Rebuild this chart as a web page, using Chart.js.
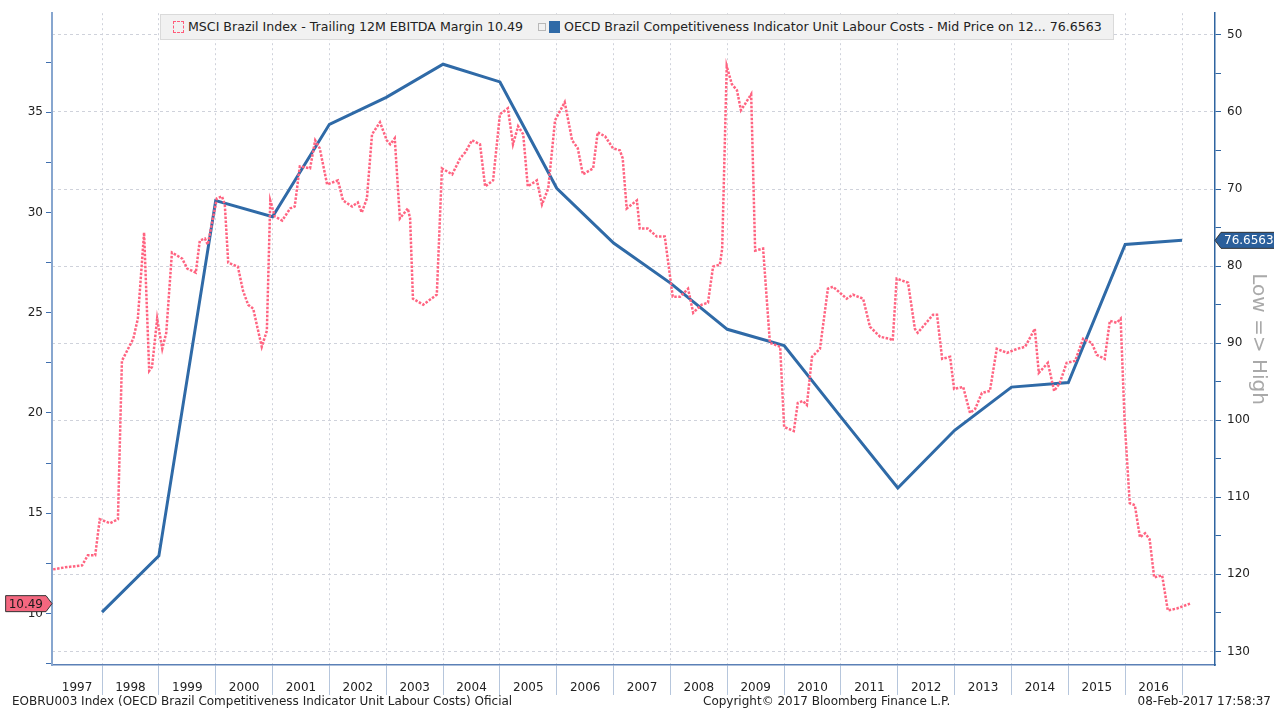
<!DOCTYPE html>
<html lang="en">
<head>
<meta charset="utf-8">
<title>MSCI Brazil EBITDA Margin vs OECD Brazil Unit Labour Costs</title>
<script src="https://cdn.jsdelivr.net/npm/chart.js"></script>
<style>
    html, body { margin: 0; padding: 0; background: #fff; }
    #page { position: relative; width: 1274px; height: 709px; overflow: hidden; font-family: "DejaVu Sans", sans-serif; }
    #chart { position: absolute; left: 0; top: 0; }
    .legend { position: absolute; left: 160px; top: 14px; width: 952px; height: 24px; background: #f1f1f1; border: 1px solid #dadada; font-size: 12.6px; color: #222; white-space: nowrap; }
    .legend span { position: absolute; top: 4px; line-height: 16px; }
    .icon-pink { position: absolute; left: 12px; top: 6px; width: 9px; height: 10px; border: 1px dashed #ff5c7a; }
    .icon-grid { position: absolute; left: 377px; top: 8px; width: 6px; height: 6px; border: 1px solid #b8b8b8; }
    .icon-blue { position: absolute; left: 388px; top: 6px; width: 11px; height: 12px; background: #2f6aa7; }
    .foot { position: absolute; top: 694px; font-size: 12px; color: #222; white-space: nowrap; line-height: 14px; }
</style>
</head>
<body>
<div id="page">
    <canvas id="chart" width="1274" height="709"></canvas>

    <!-- legend box -->
    <div class="legend">
        <div class="icon-pink"></div>
        <span style="left:27px;">MSCI Brazil Index - Trailing 12M EBITDA Margin 10.49</span>
        <div class="icon-grid"></div>
        <div class="icon-blue"></div>
        <span style="left:403px;">OECD Brazil Competitiveness Indicator Unit Labour Costs - Mid Price on 12... 76.6563</span>
    </div>

    <!-- footer -->
    <div class="foot" style="left:12px;">EOBRU003 Index (OECD Brazil Competitiveness Indicator Unit Labour Costs) Oficial</div>
    <div class="foot" style="left:703px;">Copyright© 2017 Bloomberg Finance L.P.</div>
    <div class="foot" style="right:3px;">08-Feb-2017 17:58:37</div>
</div>

<script>
    // MSCI Brazil trailing 12M EBITDA margin (left axis), dates as decimal years
    const msciDates = [
        1997.14, 1997.35, 1997.65, 1997.75, 1997.88, 1997.96, 1998.14, 1998.28, 1998.35, 1998.44,
        1998.55, 1998.63, 1998.74, 1998.83, 1998.88, 1998.97, 1999.06, 1999.13, 1999.23, 1999.41,
        1999.50, 1999.65, 1999.72, 1999.81, 1999.86, 2000.02, 2000.11, 2000.16, 2000.22, 2000.39,
        2000.48, 2000.57, 2000.66, 2000.81, 2000.90, 2000.96, 2001.04, 2001.17, 2001.31, 2001.39,
        2001.48, 2001.66, 2001.75, 2001.83, 2001.96, 2002.15, 2002.24, 2002.40, 2002.50, 2002.57,
        2002.66, 2002.75, 2002.89, 2003.01, 2003.07, 2003.15, 2003.24, 2003.38, 2003.42, 2003.47,
        2003.65, 2003.89, 2003.98, 2004.16, 2004.30, 2004.39, 2004.51, 2004.65, 2004.74, 2004.88,
        2005.00, 2005.14, 2005.23, 2005.32, 2005.41, 2005.49, 2005.65, 2005.74, 2005.85, 2005.97,
        2006.14, 2006.27, 2006.37, 2006.46, 2006.64, 2006.72, 2006.85, 2006.99, 2007.11, 2007.16,
        2007.23, 2007.41, 2007.46, 2007.60, 2007.76, 2007.90, 2008.04, 2008.17, 2008.31, 2008.40,
        2008.55, 2008.66, 2008.75, 2008.87, 2008.91, 2008.99, 2009.08, 2009.17, 2009.24, 2009.31,
        2009.42, 2009.49, 2009.63, 2009.75, 2009.93, 2010.00, 2010.17, 2010.24, 2010.33, 2010.40,
        2010.49, 2010.63, 2010.77, 2010.86, 2011.10, 2011.21, 2011.39, 2011.51, 2011.69, 2011.86,
        2011.91, 2011.98, 2012.18, 2012.30, 2012.35, 2012.62, 2012.69, 2012.78, 2012.92, 2012.99,
        2013.15, 2013.27, 2013.36, 2013.48, 2013.62, 2013.74, 2013.92, 2014.10, 2014.24, 2014.41,
        2014.48, 2014.64, 2014.75, 2014.85, 2014.97, 2015.12, 2015.26, 2015.41, 2015.50, 2015.64,
        2015.73, 2015.85, 2015.92, 2015.99, 2016.08, 2016.17, 2016.26, 2016.35, 2016.43, 2016.51,
        2016.65, 2016.75, 2016.91, 2017.14
    ];
    const msciValues = [
        12.2, 12.3, 12.4, 12.9, 12.9, 14.7, 14.5, 14.7, 22.6, 23.1,
        23.7, 24.7, 29.0, 22.1, 22.3, 24.7, 23.2, 24.0, 28.0, 27.7,
        27.2, 27.0, 28.6, 28.7, 28.4, 30.7, 30.8, 30.4, 27.5, 27.3,
        26.1, 25.4, 25.2, 23.3, 24.1, 30.6, 29.8, 29.6, 30.2, 30.3,
        32.3, 32.2, 33.6, 33.2, 31.4, 31.6, 30.6, 30.3, 30.5, 30.0,
        30.7, 33.9, 34.5, 33.6, 33.4, 33.7, 29.7, 30.2, 29.7, 25.7,
        25.4, 25.9, 32.2, 31.9, 32.7, 33.0, 33.6, 33.4, 31.3, 31.6,
        34.9, 35.2, 33.4, 34.3, 33.9, 31.3, 31.6, 30.4, 31.2, 34.6,
        35.5, 33.6, 33.2, 31.9, 32.2, 34.0, 33.8, 33.2, 33.1, 32.7,
        30.2, 30.6, 29.2, 29.2, 28.8, 28.8, 25.8, 25.8, 26.2, 25.0,
        25.4, 25.5, 27.3, 27.4, 28.2, 37.3, 36.4, 36.1, 35.1, 35.4,
        35.9, 28.1, 28.2, 23.5, 23.3, 19.3, 19.1, 20.5, 20.6, 20.4,
        22.8, 23.2, 26.2, 26.3, 25.7, 25.9, 25.7, 24.3, 23.8, 23.7,
        23.6, 26.7, 26.5, 24.2, 24.0, 24.9, 24.9, 22.7, 22.8, 21.2,
        21.3, 20.0, 20.2, 21.0, 21.1, 23.2, 23.0, 23.2, 23.3, 24.2,
        22.0, 22.5, 21.1, 21.5, 22.5, 22.6, 23.7, 23.5, 22.9, 22.7,
        24.6, 24.5, 24.7, 19.6, 15.5, 15.4, 13.8, 14.0, 13.7, 11.8,
        11.9, 10.15, 10.25, 10.49
    ];

    // OECD Brazil competitiveness indicator, unit labour costs (right axis, inverted)
    const oecdYears = [1998, 1999, 2000, 2001, 2002, 2003, 2004, 2005, 2006, 2007,
                       2008, 2009, 2010, 2011, 2012, 2013, 2014, 2015, 2016, 2017];
    const oecdValues = [124.9, 117.6, 71.5, 73.6, 61.6, 58.1, 53.8, 56.1, 69.9, 77.0,
                        82.2, 88.2, 90.3, 99.6, 108.8, 101.3, 95.7, 95.1, 77.2, 76.6563];

    // axis ticks and labels
    const yearLabels = ['1997', '1998', '1999', '2000', '2001', '2002', '2003', '2004', '2005', '2006',
                        '2007', '2008', '2009', '2010', '2011', '2012', '2013', '2014', '2015', '2016'];
    const leftTicks = [7.5, 10, 12.5, 15, 17.5, 20, 22.5, 25, 27.5, 30, 32.5, 35, 37.5];
    const rightTicks = [50, 55, 60, 65, 70, 75, 80, 85, 90, 95, 100, 105, 110, 115, 120, 125, 130];

    const X_MIN = 1997.12, X_MAX = 2017.58;
    const GRID = '#cfd2db';
    const AXIS_BLUE = '#2f64a0';
    const CLEAR = 'rgba(0,0,0,0)';

    Chart.defaults.font.family = '"DejaVu Sans", sans-serif';
    Chart.defaults.font.size = 12;
    Chart.defaults.color = '#222';

    // year label positions: centre of each (visible) year interval
    const labelPos = yearLabels.map(y => (Math.max(+y, X_MIN) + (+y + 1)) / 2);
    const boundaryTicks = yearLabels.slice(1).map(y => +y).concat([2017]);

    function drawTag(ctx, dir, tipX, y, text, bg, fg) {
        ctx.save();
        ctx.font = '12px "DejaVu Sans", sans-serif';
        const w = ctx.measureText(text).width + 6;
        const h = 16, a = 6;
        ctx.beginPath();
        if (dir === 'right') {
            const x0 = tipX - a - w;
            ctx.moveTo(x0, y - h / 2);
            ctx.lineTo(tipX - a, y - h / 2);
            ctx.lineTo(tipX, y);
            ctx.lineTo(tipX - a, y + h / 2);
            ctx.lineTo(x0, y + h / 2);
        } else {
            const x1 = tipX + a + w;
            ctx.moveTo(tipX, y);
            ctx.lineTo(tipX + a, y - h / 2);
            ctx.lineTo(x1, y - h / 2);
            ctx.lineTo(x1, y + h / 2);
            ctx.lineTo(tipX + a, y + h / 2);
        }
        ctx.closePath();
        ctx.fillStyle = bg;
        ctx.fill();
        ctx.strokeStyle = '#333';
        ctx.lineWidth = 1;
        ctx.stroke();
        ctx.fillStyle = fg;
        ctx.textBaseline = 'middle';
        ctx.textAlign = 'left';
        const tx = dir === 'right' ? tipX - a - w + 3 : tipX + a + 3;
        ctx.fillText(text, tx, y + 1);
        ctx.restore();
    }

    // last-value tags on both axes
    const valueTags = {
        id: 'valueTags',
        afterDraw(chart) {
            const yL = chart.scales.yL, yR = chart.scales.yR;
            const lastMsci = msciValues[msciValues.length - 1];
            const lastOecd = oecdValues[oecdValues.length - 1];
            drawTag(chart.ctx, 'right', yL.right, yL.getPixelForValue(lastMsci), lastMsci.toFixed(2), '#f4677f', '#1a1a1a');
            drawTag(chart.ctx, 'left', yR.left, yR.getPixelForValue(lastOecd), lastOecd.toFixed(4), '#2b5f9b', '#ffffff');
        }
    };

    new Chart(document.getElementById('chart'), {
        type: 'line',
        data: {
            datasets: [
                {
                    label: 'MSCI Brazil Index - Trailing 12M EBITDA Margin',
                    data: msciDates.map((d, i) => ({ x: d, y: msciValues[i] })),
                    yAxisID: 'yL',
                    borderColor: '#ff6481',
                    borderWidth: 2.5,
                    borderDash: [2.5, 1.5],
                    pointRadius: 0,
                    tension: 0
                },
                {
                    label: 'OECD Brazil Competitiveness Indicator Unit Labour Costs',
                    data: oecdYears.map((d, i) => ({ x: d, y: oecdValues[i] })),
                    yAxisID: 'yR',
                    borderColor: '#2f6aa7',
                    borderWidth: 3,
                    pointRadius: 0,
                    tension: 0
                }
            ]
        },
        options: {
            responsive: false,
            animation: false,
            layout: { padding: { top: 12, left: 0, right: 0, bottom: 0 } },
            plugins: {
                legend: { display: false },
                tooltip: { enabled: false }
            },
            scales: {
                x: {
                    type: 'linear',
                    min: X_MIN,
                    max: X_MAX,
                    afterBuildTicks: axis => {
                        axis.ticks = boundaryTicks.concat(labelPos).sort((a, b) => a - b).map(v => ({ value: v }));
                    },
                    afterFit: s => { s.height = 44; },
                    ticks: {
                        autoSkip: false,
                        maxRotation: 0,
                        padding: -14,
                        color: '#222',
                        callback: v => {
                            const i = labelPos.findIndex(p => Math.abs(p - v) < 1e-6);
                            return i >= 0 ? yearLabels[i] : '';
                        }
                    },
                    grid: {
                        color: c => (c.tick && Number.isInteger(c.tick.value)) ? GRID : CLEAR,
                        tickColor: c => (c.tick && Number.isInteger(c.tick.value)) ? '#b6c6dc' : CLEAR,
                        tickBorderDash: [],
                        tickLength: 30,
                        tickWidth: 1
                    },
                    border: { color: '#5b80b6', width: 1.5, dash: [2, 3] }
                },
                yL: {
                    position: 'left',
                    min: 7.43,
                    max: 39.94,
                    afterBuildTicks: axis => { axis.ticks = leftTicks.map(v => ({ value: v })); },
                    afterFit: s => { s.width = 52; },
                    ticks: {
                        padding: 3,
                        color: '#222',
                        callback: v => (v % 5 === 0 ? String(v) : '')
                    },
                    grid: {
                        drawOnChartArea: false,
                        tickLength: 6,
                        tickColor: '#3f6fae'
                    },
                    border: { color: '#87a6cf', width: 2 }
                },
                yR: {
                    position: 'right',
                    reverse: true,
                    min: 47.18,
                    max: 131.76,
                    afterBuildTicks: axis => { axis.ticks = rightTicks.map(v => ({ value: v })); },
                    afterFit: s => { s.width = 59; },
                    ticks: {
                        padding: 6,
                        color: '#222',
                        callback: v => (v % 10 === 0 ? String(v) : '')
                    },
                    grid: {
                        color: c => (c.tick && c.tick.value % 10 === 0) ? GRID : CLEAR,
                        tickBorderDash: [],
                        tickLength: 6,
                        tickColor: AXIS_BLUE
                    },
                    border: { color: AXIS_BLUE, width: 1.5, dash: [3, 3] },
                    title: {
                        display: true,
                        text: 'Low => High',
                        color: '#a9a9a9',
                        font: { size: 20 },
                        padding: 4
                    }
                }
            }
        },
        plugins: [valueTags]
    });
</script>
</body>
</html>
